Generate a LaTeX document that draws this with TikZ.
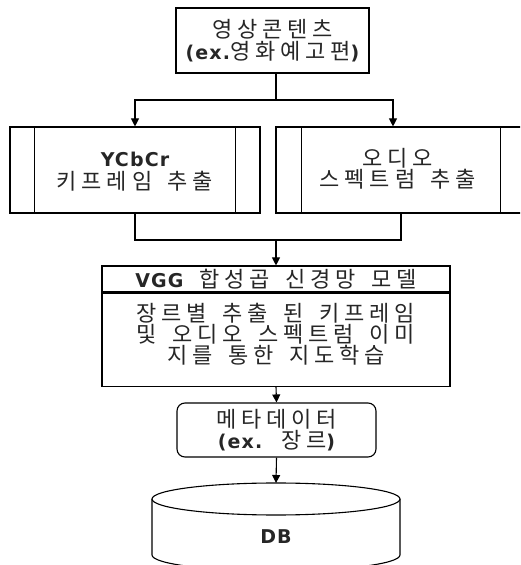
\documentclass[tikz,border=0pt]{standalone}
\usepackage{fontspec}
\usetikzlibrary{arrows.meta,calc}
\newfontfamily\kr[LetterSpace=22,WordSpace=1.6]{Noto Sans CJK KR}
\newfontfamily\lt[LetterSpace=6]{DejaVu Sans}
\newcommand{\lat}[1]{{\lt\bfseries\fontsize{19}{21}\selectfont #1}}
\tikzset{
  box/.style={draw, line width=1.1pt, fill=white, inner sep=0pt, align=center, text=black!85},
  txt/.style={inner sep=0pt, align=center, text=black!85},
  arr/.style={line width=1.1pt, -{Triangle[length=8pt,width=8pt]}},
  ln/.style={line width=1.1pt}
}
\begin{document}
\begin{tikzpicture}[x=1pt,y=1pt,font=\kr\fontsize{22}{21.5}\selectfont]
\useasboundingbox (0,0) rectangle (520,565);
\clip (0,0) rectangle (520,565);
% source
\node[box, minimum width=193pt, minimum height=65pt] (src) at (272.5,524.5)
  {영상콘텐츠\\\lat{(ex.}영화예고편\lat{)}};
% sub-process boxes
\node[box, minimum width=250pt, minimum height=86pt] (yc) at (135,395) {};
\draw[ln] ($(yc.north west)+(25,0)$) -- ($(yc.south west)+(25,0)$);
\draw[ln] ($(yc.north east)+(-25,0)$) -- ($(yc.south east)+(-25,0)$);
\node[txt, font=\kr\fontsize{22}{23}\selectfont] (yct) at (135,393) {\lat{YCbCr}\\키프레임 추출};
\node[box, minimum width=250pt, minimum height=86pt] (au) at (401,395) {};
\draw[ln] ($(au.north west)+(26,0)$) -- ($(au.south west)+(26,0)$);
\draw[ln] ($(au.north east)+(-26,0)$) -- ($(au.south east)+(-26,0)$);
\node[txt] (aut) at (398,396) {오디오\\스펙트럼 추출};
% VGG
\node[box, minimum width=348pt, minimum height=26pt] (vgg) at (276,286) {\lat{VGG} 합성곱 신경망 모델};
\node[box, minimum width=348pt, minimum height=93pt, anchor=north] (vggb) at (vgg.south) {};
\node[txt, font=\kr\fontsize{22}{19.5}\selectfont] (vggt) at (276,231)
  {장르별 추출 된 키프레임\\및 오디오 스펙트럼 이미\\지를 통한 지도학습};
% metadata
\node[box, rounded corners=8pt, minimum width=199pt, minimum height=54pt] (meta) at (276.5,135)
  {메타데이터\\\lat{(ex.} 장르\lat{)}};
% DB cylinder
\coordinate (dbtop) at (276,82);
\draw[ln, fill=white] (152,66) -- (152,10) arc[start angle=180, end angle=360, x radius=124, y radius=16] -- (400,66);
\draw[ln, fill=white] (276,66) ellipse[x radius=124, y radius=16];
\node[txt] (db) at (276,28) {\lat{DB}};
% connectors
\coordinate (split) at (276,465);
\coordinate (merge) at (276,325);
\draw[ln] (src.south -| split) -- (split);
\draw[arr] (split) -| (yc.north);
\draw[arr] (split) -| ($(au.north)+(-8,0)$);
\draw[ln] (yc.south) |- (merge);
\draw[ln] (au.south) |- (merge);
\draw[arr] (merge) -- (vgg.north);
\draw[arr] (vggb.south) -- (meta.north);
\draw[arr] (meta.south) -- (dbtop);
\end{tikzpicture}
\end{document}
